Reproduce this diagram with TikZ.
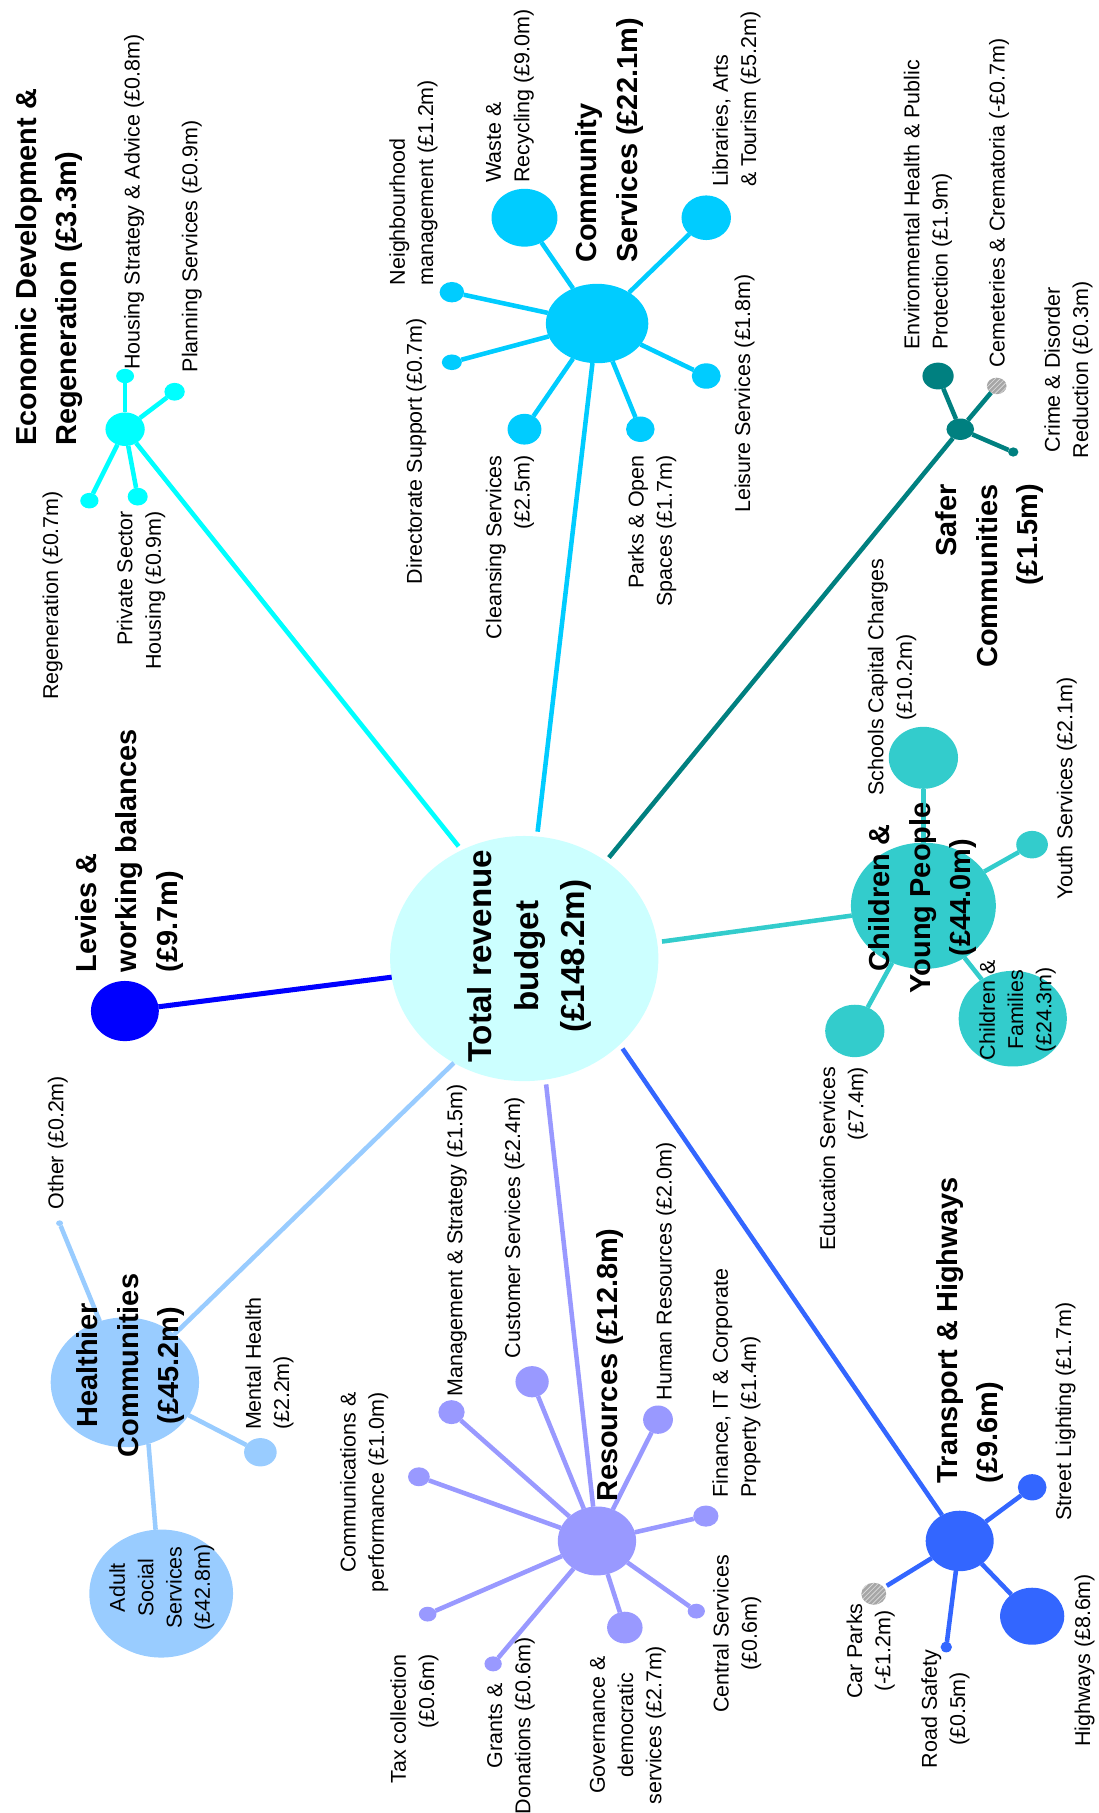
\documentclass[tikz,border=0pt]{standalone}
\usepackage{fontspec}
\setmainfont{Liberation Sans}
\usetikzlibrary{shapes.geometric,patterns}
\definecolor{cTot}{HTML}{CCFFFF}
\definecolor{cLev}{HTML}{0000FF}
\definecolor{cEco}{HTML}{00FFFF}
\definecolor{cCom}{HTML}{00CCFF}
\definecolor{cSaf}{HTML}{008080}
\definecolor{cCyp}{HTML}{33CCCC}
\definecolor{cTra}{HTML}{3366FF}
\definecolor{cRes}{HTML}{9999FF}
\definecolor{cHea}{HTML}{99CCFF}
\begin{document}
\begin{tikzpicture}[x=0.025cm,y=-0.025cm,
  blob/.style n args={3}{ellipse, draw=none, fill=#1, minimum width=#2*0.025cm, minimum height=#3*0.025cm, inner sep=0pt, outer sep=0pt},
  negblob/.style 2 args={ellipse, draw=none, fill=gray!70, postaction={pattern=north east lines, pattern color=gray!25}, minimum width=#1*0.025cm, minimum height=#2*0.025cm, inner sep=0pt, outer sep=0pt},
  conn/.style={line width=2.8pt, draw=#1},
  lbl/.style={rotate=90, inner sep=0pt, font=\fontsize{13.2pt}{17.4pt}\selectfont},
  ttl/.style={rotate=90, inner sep=0pt, font=\bfseries\fontsize{17.8pt}{25pt}\selectfont},
  tot/.style={rotate=90, inner sep=0pt, align=center, font=\bfseries\fontsize{20.4pt}{28.8pt}\selectfont}
]
\useasboundingbox (0,0) rectangle (950,1568);

% ---------- shapes ----------
\node[blob={cTot}{232}{212}] (total) at (453.4,829) {};
\node[blob={cLev}{58.7}{52}] (levies) at (108,874.4) {};

\node[blob={cEco}{34}{29}] (eco) at (108.2,371.2) {};
\node[blob={cEco}{15.5}{12.4}] (housing) at (108.2,325.2) {};
\node[blob={cEco}{17.6}{15.4}] (planning) at (151,338.8) {};
\node[blob={cEco}{15.8}{13.5}] (regen) at (77.3,433) {};
\node[blob={cEco}{17.3}{15.4}] (psh) at (119.1,429.5) {};

\node[blob={cCom}{88.6}{68.7}] (comm) at (516.4,279.8) {};
\node[blob={cCom}{57}{50}] (waste) at (453.6,188.3) {};
\node[blob={cCom}{42.8}{38.6}] (libr) at (610.8,188.3) {};
\node[blob={cCom}{21.2}{17.7}] (neigh) at (390.8,252.7) {};
\node[blob={cCom}{17.3}{13.5}] (direc) at (390.8,313.3) {};
\node[blob={cCom}{29.3}{26.6}] (cleans) at (453.6,371.2) {};
\node[blob={cCom}{24.7}{22}] (parks) at (553.8,371.2) {};
\node[blob={cCom}{25}{22}] (leis) at (610.8,325.2) {};

\node[blob={cSaf}{23.9}{18.5}] (safer) at (830.5,371.2) {};
\node[blob={cSaf}{27}{23.2}] (envh) at (811.3,325.2) {};
\node[negblob={17}{14.3}] (cemet) at (862,333.8) {};
\node[blob={cSaf}{9}{8}] (crime) at (876.3,390.9) {};

\node[blob={cCyp}{125.3}{109.2}] (cyp) at (798.6,783.4) {};
\node[blob={cCyp}{59.9}{53.6}] (schools) at (798.6,655.4) {};
\node[blob={cCyp}{27.4}{23.8}] (youth) at (892.6,730.5) {};
\node[blob={cCyp}{51.3}{45.3}] (educ) at (739.3,891.6) {};
\node[blob={cCyp}{93.6}{82.7}] (cfam) at (875.9,881) {};

\node[blob={cTra}{58.8}{52.3}] (trans) at (830,1332.7) {};
\node[blob={cTra}{24.8}{22.7}] (street) at (892.7,1286.3) {};
\node[blob={cTra}{55.5}{49.3}] (highw) at (892.7,1397.8) {};
\node[blob={cTra}{9.9}{9.1}] (road) at (818.4,1424.5) {};
\node[negblob={21.5}{19}] (carp) at (755.7,1378.4) {};

\node[blob={cRes}{67.7}{59.6}] (res) at (516.3,1332.7) {};
\node[blob={cRes}{22.7}{20.8}] (mgmt) at (390.5,1221.3) {};
\node[blob={cRes}{28.8}{27}] (cust) at (460.2,1195) {};
\node[blob={cRes}{18.8}{16.4}] (comms) at (362.3,1277.2) {};
\node[blob={cRes}{15.2}{12.8}] (tax) at (369.9,1396) {};
\node[blob={cRes}{15}{13}] (grants) at (426.5,1439) {};
\node[blob={cRes}{30.7}{27.4}] (gov) at (540.4,1407.6) {};
\node[blob={cRes}{14.9}{12.8}] (central) at (602.2,1393.4) {};
\node[blob={cRes}{21.8}{18.3}] (fin) at (610.5,1311.2) {};
\node[blob={cRes}{25.8}{24.5}] (hr) at (569.1,1227.8) {};

\node[blob={cHea}{128.3}{112.2}] (health) at (108,1195.5) {};
\node[blob={cHea}{6}{5}] (other) at (51.5,1057.9) {};
\node[blob={cHea}{28.2}{24.5}] (mental) at (225.2,1256) {};
\node[blob={cHea}{124.3}{110.7}] (adult) at (139.4,1378.2) {};

% ---------- connectors ----------
\draw[conn=cLev, line width=3.1pt] (total.188) -- (levies);
\draw[conn=cEco, shorten <=3pt] (total.120) -- (eco);
\draw[conn=cCom, shorten <=3pt] (total.84) -- (comm);
\draw[conn=cSaf, shorten <=3pt] (total.50) -- (safer);
\draw[conn=cCyp, shorten <=3pt] (total.7) -- (cyp);
\draw[conn=cTra, shorten <=3pt] (total.318) -- (trans);
\draw[conn=cRes, shorten <=3pt] (total.280) -- (res);
\draw[conn=cHea] (total.236) -- (health);

\foreach \s in {housing,planning,regen,psh} \draw[conn=cEco] (eco) -- (\s);
\foreach \s in {waste,libr,neigh,direc,cleans,parks,leis} \draw[conn=cCom] (comm) -- (\s);
\foreach \s in {envh,cemet,crime} \draw[conn=cSaf] (safer) -- (\s);
\foreach \s in {schools,youth,educ,cfam} \draw[conn=cCyp] (cyp) -- (\s);
\foreach \s in {street,highw,road} \draw[conn=cTra] (trans) -- (\s);
\draw[conn=cTra, shorten >=2pt] (trans) -- (carp);
\foreach \s in {mgmt,cust,comms,tax,grants,gov,central,fin,hr} \draw[conn=cRes] (res) -- (\s);
\draw[conn=cHea] (health) -- (other);
\draw[conn=cHea] (health) -- (mental);
\draw[conn=cHea] (health.-69) -- (adult.95);

% ---------- titles ----------
\node[tot] (totalT) at (458,827) {Total revenue\\budget\\(£148.2m)};
\node[ttl, align=left, anchor=west] (ecoT) at (42.5,385.8) {Economic Development \&\\Regeneration (£3.3m)};
\node[ttl, align=left, anchor=west] (commT) at (527,227.6) {Community\\Services (£22.1m)};
\node[ttl, align=right, anchor=east] (saferT) at (856,418.6) {Safer\\Communities\\(£1.5m)};
\node[ttl, align=left, anchor=west] (leviesT) at (112,841.3) {Levies \&\\working balances\\(£9.7m)};
\node[ttl, align=center] (cypT) at (798,776.5) {Children \&\\Young People\\(£44.0m)};
\node[ttl, align=left, anchor=west] (transT) at (839,1283) {Transport \& Highways\\(£9.6m)};
\node[ttl, anchor=west] (resT) at (528,1299.1) {Resources (£12.8m)};
\node[ttl, align=center] (healthT) at (113,1181) {Healthier\\Communities\\(£45.2m)};

% ---------- labels ----------
\node[lbl, anchor=west] (housingL) at (116,320.2) {Housing Strategy \& Advice (£0.8m)};
\node[lbl, anchor=west] (planL) at (166,322.1) {Planning Services (£0.9m)};
\node[lbl, anchor=east] (regenL) at (45.5,424.4) {Regeneration (£0.7m)};
\node[lbl, align=right, anchor=east] (pshL) at (122,441.7) {Private Sector\\Housing (£0.9m)};

\node[lbl, anchor=west] (dirL) at (360,505.4) {Directorate Support (£0.7m)};
\node[lbl, align=left, anchor=west] (neighL) at (357.5,246.9) {Neighbourhood\\management (£1.2m)};
\node[lbl, align=left, anchor=west] (wasteL) at (441,158.2) {Waste \&\\Recycling (£9.0m)};
\node[lbl, align=right, anchor=east] (cleanL) at (441,393.5) {Cleansing Services\\(£2.5m)};
\node[lbl, align=left, anchor=west] (libL) at (637,162) {Libraries, Arts\\\& Tourism (£5.2m)};
\node[lbl, align=right, anchor=east] (parksL) at (564,393.5) {Parks \& Open\\Spaces (£1.7m)};
\node[lbl, anchor=west] (leisL) at (644,443.7) {Leisure Services (£1.8m)};

\node[lbl, align=left, anchor=west] (envL) at (802.5,302.9) {Environmental Health \& Public\\Protection (£1.9m)};
\node[lbl, anchor=west] (cemL) at (864,318.3) {Cemeteries \& Crematoria (-£0.7m)};
\node[lbl, align=center] (crimeL) at (924,320) {Crime \& Disorder\\Reduction (£0.3m)};

\node[lbl, align=center] (schoolsL) at (771.5,585.7) {Schools Capital Charges\\(£10.2m)};
\node[lbl, anchor=west] (youthL) at (922.6,778.5) {Youth Services (£2.1m)};
\node[lbl, align=right, anchor=east] (eduL) at (729.6,922.4) {Education Services\\(£7.4m)};
\node[lbl, align=center] (cfL) at (880,873.5) {Children \&\\Families\\(£24.3m)};

\node[lbl, anchor=west] (otherL) at (50,1046.4) {Other (£0.2m)};
\node[lbl, align=left, anchor=west] (mentalL) at (233,1237) {Mental Health\\(£2.2m)};
\node[lbl, align=center] (adultL) at (140,1373) {Adult\\Social\\Services\\(£42.8m)};

\node[lbl, align=right, anchor=east] (commsL) at (315,1204) {Communications \&\\performance (£1.0m)};
\node[lbl, anchor=west] (mgmtL) at (395,1207.7) {Management \& Strategy (£1.5m)};
\node[lbl, anchor=west] (custL) at (445,1174.8) {Customer Services (£2.4m)};
\node[lbl, align=right, anchor=east] (taxL) at (358.5,1430.7) {Tax collection\\(£0.6m)};
\node[lbl, align=center] (grantsL) at (442,1492.5) {Grants \&\\Donations (£0.6m)};
\node[lbl, anchor=west] (hrL) at (576,1211.4) {Human Resources (£2.0m)};
\node[lbl, align=left, anchor=west] (finL) at (637,1295.4) {Finance, IT \& Corporate\\Property (£1.4m)};
\node[lbl, align=center] (centralL) at (637.5,1413) {Central Services\\(£0.6m)};
\node[lbl, align=center] (govL) at (543,1492) {Governance \&\\democratic\\services (£2.7m)};

\node[lbl, anchor=west] (streetL) at (921.6,1315.5) {Street Lighting (£1.7m)};
\node[lbl, anchor=west] (highL) at (938,1511.1) {Highways (£8.6m)};
\node[lbl, align=center] (carL) at (753,1428) {Car Parks\\(-£1.2m)};
\node[lbl, align=center] (roadL) at (817.6,1478) {Road Safety\\(£0.5m)};
\end{tikzpicture}
\end{document}
